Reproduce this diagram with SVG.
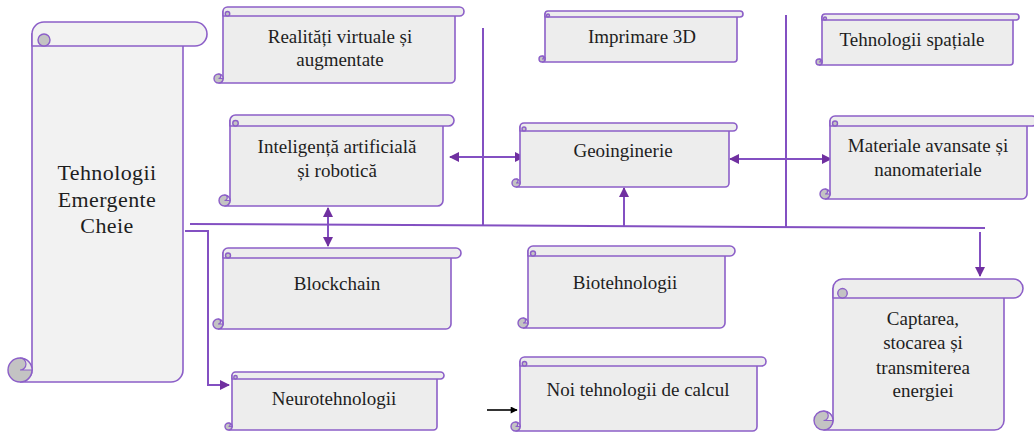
<svg xmlns="http://www.w3.org/2000/svg" width="1034" height="432" viewBox="0 0 1034 432">
  <style>
    .body { fill: #ededed; stroke: #8c5fc8; stroke-width: 1.6; }
    .big .body, .big .band { fill: #f2f2f2; }
    .band { fill: #ededed; stroke: #8c5fc8; stroke-width: 1.6; stroke-linejoin: round; }
    .curl { fill: #c3c3c3; stroke: #8c5fc8; stroke-width: 1.4; }
    .notch { fill: #e6e6e6; stroke: #8c5fc8; stroke-width: 1.2; }
    .lbl { font-family: "Liberation Serif", "Times New Roman", serif; font-size: 19px; fill: #1e1e1e; text-anchor: middle; }
    .lbl-big { font-size: 22px; letter-spacing: 0.4px; }
    .conn { fill: none; stroke: #8350c2; stroke-width: 2; }
    .arr { marker-end: url(#head); }
    .dbl { marker-start: url(#head); marker-end: url(#head); }
  </style>
  <defs>
    <marker id="head" viewBox="0 0 10 10" refX="9" refY="5" markerWidth="10" markerHeight="10" markerUnits="userSpaceOnUse" orient="auto-start-reverse">
      <path d="M0,0 L10,5 L0,10 Z" fill="#7030a0"/>
    </marker>
    <marker id="head-black" viewBox="0 0 10 10" refX="9" refY="5" markerWidth="8" markerHeight="7" markerUnits="userSpaceOnUse" orient="auto">
      <path d="M0,0 L10,5 L0,10 Z" fill="#000"/>
    </marker>
  </defs>

  <!-- connectors -->
  <g id="connectors">
    <path class="conn" d="M190,224 L985,228"/>
    <path class="conn" d="M483,28 V225"/>
    <path class="conn" d="M786,15 V228"/>
    <path class="conn arr" d="M624,227 V188"/>
    <path class="conn dbl" d="M450,157 H524"/>
    <path class="conn dbl" d="M730,159 H831"/>
    <path class="conn dbl" d="M328,208 V246"/>
    <path class="conn arr" d="M980,232 V276"/>
    <path class="conn arr" d="M185,231 H208 V385 H229"/>
    <path d="M487,410 H517" fill="none" stroke="#000" stroke-width="1.6" marker-end="url(#head-black)"/>
  </g>

  <!-- Tehnologii Emergente Cheie -->
  <g id="node-cheie" class="big">
    <path class="body" d="M32,34 H183 V370 A12 12 0 0 1 171,382 H20 A12 12 0 0 0 32,370 Z"/>
    <path class="band" d="M32,46 V34 A12 12 0 0 1 44,22 H195 A12 12 0 0 1 195,46 Z"/>
    <circle class="curl" cx="20" cy="370" r="12"/>
    <path class="notch" d="M20,358 A6 6 0 0 1 20,370 H32 A12 12 0 0 0 20,358 Z"/>
    <circle class="curl" cx="44" cy="40" r="6"/>
    <text class="lbl lbl-big" x="107" y="180">Tehnologii</text>
    <text class="lbl lbl-big" x="107" y="207">Emergente</text>
    <text class="lbl lbl-big" x="107" y="233">Cheie</text>
  </g>

  <!-- Realități virtuale și augmentate -->
  <g id="node-realitati">
    <path class="body" d="M223,11.5 H455 V78.5 A4.5 4.5 0 0 1 450.5,83 H218.5 A4.5 4.5 0 0 0 223,78.5 Z"/>
    <path class="band" d="M223,16 V11.5 A4.5 4.5 0 0 1 227.5,7 H459.5 A4.5 4.5 0 0 1 459.5,16 Z"/>
    <circle class="curl" cx="218.5" cy="78.5" r="4.5"/>
    <path class="notch" d="M218.5,74 A2.25 2.25 0 0 1 218.5,78.5 H223 A4.5 4.5 0 0 0 218.5,74 Z"/>
    <circle class="curl" cx="227.5" cy="13.75" r="2.25"/>
    <text class="lbl" x="340" y="43">Realități virtuale și</text>
    <text class="lbl" x="340" y="66">augmentate</text>
  </g>

  <!-- Inteligență artificială și robotică -->
  <g id="node-ia">
    <path class="body" d="M230,120.5 H443 V200.5 A5.5 5.5 0 0 1 437.5,206 H224.5 A5.5 5.5 0 0 0 230,200.5 Z"/>
    <path class="band" d="M230,126 V120.5 A5.5 5.5 0 0 1 235.5,115 H448.5 A5.5 5.5 0 0 1 448.5,126 Z"/>
    <circle class="curl" cx="224.5" cy="200.5" r="5.5"/>
    <path class="notch" d="M224.5,195 A2.75 2.75 0 0 1 224.5,200.5 H230 A5.5 5.5 0 0 0 224.5,195 Z"/>
    <circle class="curl" cx="235.5" cy="123.25" r="2.75"/>
    <text class="lbl" x="337" y="153">Inteligență artificială</text>
    <text class="lbl" x="337" y="177">și robotică</text>
  </g>

  <!-- Imprimare 3D -->
  <g id="node-imprimare">
    <path class="body" d="M545,14 H737 V59 A3 3 0 0 1 734,62 H542 A3 3 0 0 0 545,59 Z"/>
    <path class="band" d="M545,17 V14 A3 3 0 0 1 548,11 H740 A3 3 0 0 1 740,17 Z"/>
    <circle class="curl" cx="542" cy="59" r="3"/>
    <path class="notch" d="M542,56 A1.5 1.5 0 0 1 542,59 H545 A3 3 0 0 0 542,56 Z"/>
    <circle class="curl" cx="548" cy="15.5" r="1.5"/>
    <text class="lbl" x="642" y="43">Imprimare 3D</text>
  </g>

  <!-- Geoinginerie -->
  <g id="node-geo">
    <path class="body" d="M520,127 H729 V183 A4 4 0 0 1 725,187 H516 A4 4 0 0 0 520,183 Z"/>
    <path class="band" d="M520,131 V127 A4 4 0 0 1 524,123 H733 A4 4 0 0 1 733,131 Z"/>
    <circle class="curl" cx="516" cy="183" r="4"/>
    <path class="notch" d="M516,179 A2 2 0 0 1 516,183 H520 A4 4 0 0 0 516,179 Z"/>
    <circle class="curl" cx="524" cy="129" r="2"/>
    <text class="lbl" x="623" y="157">Geoinginerie</text>
  </g>

  <!-- Tehnologii spațiale -->
  <g id="node-spatiale">
    <path class="body" d="M822,17 H1013 V62 A3 3 0 0 1 1010,65 H819 A3 3 0 0 0 822,62 Z"/>
    <path class="band" d="M822,20 V17 A3 3 0 0 1 825,14 H1016 A3 3 0 0 1 1016,20 Z"/>
    <circle class="curl" cx="819" cy="62" r="3"/>
    <path class="notch" d="M819,59 A1.5 1.5 0 0 1 819,62 H822 A3 3 0 0 0 819,59 Z"/>
    <circle class="curl" cx="825" cy="18.5" r="1.5"/>
    <text class="lbl" x="912" y="46">Tehnologii spațiale</text>
  </g>

  <!-- Materiale avansate și nanomateriale -->
  <g id="node-materiale">
    <path class="body" d="M830,121 H1027 V194 A5 5 0 0 1 1022,199 H825 A5 5 0 0 0 830,194 Z"/>
    <path class="band" d="M830,126 V121 A5 5 0 0 1 835,116 H1032 A5 5 0 0 1 1032,126 Z"/>
    <circle class="curl" cx="825" cy="194" r="5"/>
    <path class="notch" d="M825,189 A2.5 2.5 0 0 1 825,194 H830 A5 5 0 0 0 825,189 Z"/>
    <circle class="curl" cx="835" cy="123.5" r="2.5"/>
    <text class="lbl" x="928" y="152">Materiale avansate și</text>
    <text class="lbl" x="928" y="176">nanomateriale</text>
  </g>

  <!-- Blockchain -->
  <g id="node-blockchain">
    <path class="body" d="M223,253 H451 V324 A5 5 0 0 1 446,329 H218 A5 5 0 0 0 223,324 Z"/>
    <path class="band" d="M223,258 V253 A5 5 0 0 1 228,248 H456 A5 5 0 0 1 456,258 Z"/>
    <circle class="curl" cx="218" cy="324" r="5"/>
    <path class="notch" d="M218,319 A2.5 2.5 0 0 1 218,324 H223 A5 5 0 0 0 218,319 Z"/>
    <circle class="curl" cx="228" cy="255.5" r="2.5"/>
    <text class="lbl" x="337" y="290">Blockchain</text>
  </g>

  <!-- Biotehnologii -->
  <g id="node-bio">
    <path class="body" d="M528,251 H725 V323 A5 5 0 0 1 720,328 H523 A5 5 0 0 0 528,323 Z"/>
    <path class="band" d="M528,256 V251 A5 5 0 0 1 533,246 H730 A5 5 0 0 1 730,256 Z"/>
    <circle class="curl" cx="523" cy="323" r="5"/>
    <path class="notch" d="M523,318 A2.5 2.5 0 0 1 523,323 H528 A5 5 0 0 0 523,318 Z"/>
    <circle class="curl" cx="533" cy="253.5" r="2.5"/>
    <text class="lbl" x="625" y="289">Biotehnologii</text>
  </g>

  <!-- Neurotehnologii -->
  <g id="node-neuro">
    <path class="body" d="M232,375.5 H437 V426.5 A3.5 3.5 0 0 1 433.5,430 H228.5 A3.5 3.5 0 0 0 232,426.5 Z"/>
    <path class="band" d="M232,379 V375.5 A3.5 3.5 0 0 1 235.5,372 H440.5 A3.5 3.5 0 0 1 440.5,379 Z"/>
    <circle class="curl" cx="228.5" cy="426.5" r="3.5"/>
    <path class="notch" d="M228.5,423 A1.75 1.75 0 0 1 228.5,426.5 H232 A3.5 3.5 0 0 0 228.5,423 Z"/>
    <circle class="curl" cx="235.5" cy="377.25" r="1.75"/>
    <text class="lbl" x="334" y="405">Neurotehnologii</text>
  </g>

  <!-- Noi tehnologii de calcul -->
  <g id="node-calcul">
    <path class="body" d="M520,361.5 H757 V426.5 A4.5 4.5 0 0 1 752.5,431 H515.5 A4.5 4.5 0 0 0 520,426.5 Z"/>
    <path class="band" d="M520,366 V361.5 A4.5 4.5 0 0 1 524.5,357 H761.5 A4.5 4.5 0 0 1 761.5,366 Z"/>
    <circle class="curl" cx="515.5" cy="426.5" r="4.5"/>
    <path class="notch" d="M515.5,422 A2.25 2.25 0 0 1 515.5,426.5 H520 A4.5 4.5 0 0 0 515.5,422 Z"/>
    <circle class="curl" cx="524.5" cy="363.75" r="2.25"/>
    <text class="lbl" x="638" y="396">Noi tehnologii de calcul</text>
  </g>

  <!-- Captarea, stocarea și transmiterea energiei -->
  <g id="node-energie">
    <path class="body" d="M833,288.5 H1004 V420.5 A9.5 9.5 0 0 1 994.5,430 H823.5 A9.5 9.5 0 0 0 833,420.5 Z"/>
    <path class="band" d="M833,298 V288.5 A9.5 9.5 0 0 1 842.5,279 H1013.5 A9.5 9.5 0 0 1 1013.5,298 Z"/>
    <circle class="curl" cx="823.5" cy="420.5" r="9.5"/>
    <path class="notch" d="M823.5,411 A4.75 4.75 0 0 1 823.5,420.5 H833 A9.5 9.5 0 0 0 823.5,411 Z"/>
    <circle class="curl" cx="842.5" cy="293.25" r="4.75"/>
    <text class="lbl" x="923" y="325">Captarea,</text>
    <text class="lbl" x="923" y="349">stocarea și</text>
    <text class="lbl" x="923" y="374">transmiterea</text>
    <text class="lbl" x="923" y="397">energiei</text>
  </g>
</svg>
